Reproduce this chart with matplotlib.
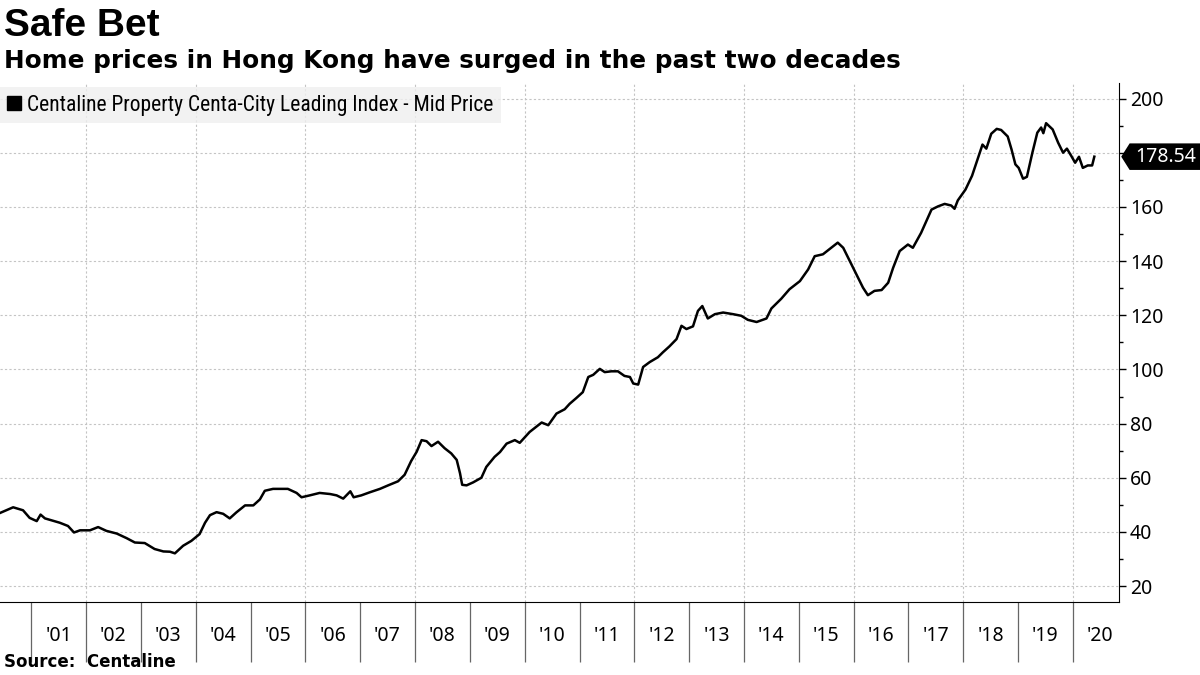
import matplotlib
matplotlib.use('Agg')
import matplotlib.pyplot as plt
import matplotlib.transforms as mtransforms
from matplotlib.patches import Polygon
from matplotlib import font_manager

# Centaline Property Centa-City Leading Index - Mid Price
dates = [2000.43, 2000.67, 2000.85, 2000.97, 2001.10, 2001.17, 2001.25, 2001.52, 2001.67, 2001.78,
         2001.89, 2002.07, 2002.22, 2002.37, 2002.56, 2002.74, 2002.89, 2003.07, 2003.25, 2003.41,
         2003.53, 2003.62, 2003.77, 2003.92, 2004.07, 2004.17, 2004.26, 2004.38, 2004.50, 2004.62,
         2004.74, 2004.90, 2005.05, 2005.17, 2005.26, 2005.41, 2005.68, 2005.84, 2005.93, 2006.08,
         2006.26, 2006.45, 2006.57, 2006.69, 2006.82, 2006.88, 2007.02, 2007.17, 2007.36, 2007.51,
         2007.69, 2007.81, 2007.93, 2008.03, 2008.12, 2008.21, 2008.30, 2008.42, 2008.54, 2008.66,
         2008.76, 2008.82, 2008.86, 2008.94, 2009.06, 2009.21, 2009.30, 2009.45, 2009.55, 2009.67,
         2009.82, 2009.91, 2010.09, 2010.21, 2010.31, 2010.43, 2010.58, 2010.73, 2010.82, 2010.94,
         2011.06, 2011.16, 2011.25, 2011.37, 2011.46, 2011.58, 2011.70, 2011.82, 2011.92, 2011.98,
         2012.07, 2012.16, 2012.28, 2012.43, 2012.52, 2012.64, 2012.77, 2012.86, 2012.95, 2013.07,
         2013.16, 2013.24, 2013.34, 2013.47, 2013.62, 2013.80, 2013.95, 2014.07, 2014.23, 2014.41,
         2014.50, 2014.68, 2014.83, 2015.02, 2015.17, 2015.29, 2015.44, 2015.59, 2015.71, 2015.81,
         2015.93, 2016.05, 2016.17, 2016.26, 2016.38, 2016.51, 2016.63, 2016.72, 2016.84, 2016.99,
         2017.08, 2017.23, 2017.42, 2017.54, 2017.66, 2017.78, 2017.84, 2017.90, 2018.04, 2018.16,
         2018.26, 2018.35, 2018.42, 2018.51, 2018.61, 2018.69, 2018.81, 2018.88, 2018.95, 2019.01,
         2019.09, 2019.16, 2019.26, 2019.35, 2019.42, 2019.46, 2019.51, 2019.63, 2019.73, 2019.82,
         2019.89, 2019.97, 2020.04, 2020.11, 2020.18, 2020.27, 2020.35, 2020.39]
ccl = [47.0, 49.1, 48.0, 45.2, 44.0, 46.4, 45.0, 43.4, 42.2, 39.8,
       40.6, 40.6, 41.8, 40.4, 39.4, 37.7, 36.1, 35.9, 33.7, 32.8,
       32.7, 32.1, 34.9, 36.7, 39.2, 43.4, 46.2, 47.3, 46.7, 45.0,
       47.2, 49.8, 49.8, 52.0, 55.2, 55.9, 55.9, 54.4, 52.8, 53.5,
       54.4, 54.0, 53.5, 52.3, 55.0, 52.8, 53.5, 54.6, 55.9, 57.2,
       58.7, 61.1, 66.2, 69.6, 73.9, 73.5, 71.7, 73.3, 70.9, 69.0,
       66.6, 61.7, 57.4, 57.2, 58.3, 60.0, 64.0, 67.7, 69.5, 72.6,
       73.9, 72.9, 76.9, 78.8, 80.4, 79.4, 83.7, 85.3, 87.3, 89.4,
       91.6, 97.2, 98.0, 100.2, 99.0, 99.3, 99.3, 97.6, 97.2, 94.8,
       94.4, 100.9, 102.7, 104.5, 106.3, 108.5, 111.2, 116.1, 114.9, 115.9,
       121.6, 123.4, 118.8, 120.4, 121.0, 120.4, 119.8, 118.3, 117.5, 118.8,
       122.5, 126.1, 129.6, 132.6, 136.9, 141.8, 142.5, 144.9, 146.8, 144.9,
       140.0, 135.1, 130.2, 127.4, 129.0, 129.3, 132.0, 137.5, 143.7, 146.1,
       144.9, 150.4, 159.0, 160.2, 161.1, 160.5, 159.3, 162.4, 166.4, 171.5,
       177.5, 183.0, 181.5, 187.0, 188.8, 188.4, 186.0, 181.2, 175.7, 174.4,
       170.4, 171.1, 180.0, 187.4, 189.3, 187.2, 190.9, 188.6, 183.7, 180.0,
       181.5, 178.8, 176.3, 178.5, 174.4, 175.3, 175.3, 178.54]

series_name = 'Centaline Property Centa-City Leading Index - Mid Price'
years = list(range(2001, 2021))
year_labels = ["'%02d" % (y % 100) for y in years]
y_ticks = list(range(20, 201, 20))
y_minor = list(range(30, 200, 20))


def narrow_font(size):
	installed = {f.name for f in font_manager.fontManager.ttflist}
	for name in ['Liberation Sans Narrow', 'Noto Sans Condensed', 'Roboto Condensed', 'Open Sans Condensed']:
		if name in installed:
			return font_manager.FontProperties(family=name, size=size)
	for f in font_manager.fontManager.ttflist:
		if f.name == 'Noto Sans' and f.stretch == 'condensed' and f.weight in (400, 'normal', 'regular'):
			return font_manager.FontProperties(fname=f.fname, size=size)
	return font_manager.FontProperties(family='Liberation Sans', size=size)


tick_font = font_manager.FontProperties(family=['Noto Sans', 'DejaVu Sans'], size=14)

fig = plt.figure(figsize=(12, 6.75), dpi=100)
ax = fig.add_axes([0.0, 0.108, 0.9325, 0.7693])

ax.plot(dates, ccl, color='black', lw=1.8, label=series_name, zorder=3)

ax.set_xlim(2000.43, 2020.84)
ax.set_ylim(14.1, 205.8)

# grid
for y in y_ticks:
	ax.axhline(y, color='#c4c4c4', lw=0.8, ls=(0, (2, 2)), zorder=1)
for yr in years[1::2]:
	ax.axvline(yr, color='#c4c4c4', lw=0.8, ls=(0, (2, 2)), zorder=1)

for s in ['top', 'left']:
	ax.spines[s].set_visible(False)
ax.spines['bottom'].set_color('black')
ax.spines['right'].set_color('black')

# x axis: long ticks at year boundaries, labels in between
ax.set_xticks(years)
ax.set_xticklabels([''] * len(years))
ax.set_xticks([y + 0.5 for y in years], minor=True)
ax.set_xticklabels(year_labels, minor=True, fontproperties=tick_font)
ax.tick_params(axis='x', which='major', length=43, width=0.9, color='#666666', direction='out')
ax.tick_params(axis='x', which='minor', length=0, pad=17)

# y axis on the right
ax.yaxis.tick_right()
ax.set_yticks(y_ticks)
ax.set_yticklabels(['' if v == 180 else str(v) for v in y_ticks], fontproperties=tick_font)
ax.set_yticks(y_minor, minor=True)
ax.tick_params(axis='y', which='major', length=5, width=1, pad=3)
ax.tick_params(axis='y', which='minor', length=3, width=1)

leg = ax.legend(loc='upper left', bbox_to_anchor=(0.0, 0.992), prop=narrow_font(15.5),
                handlelength=0.6, handleheight=0.6, handletextpad=0.3, borderaxespad=0,
                borderpad=0.35, frameon=True, fancybox=False)
leg.get_frame().set_facecolor('#efefef')
leg.get_frame().set_edgecolor('none')
for h in leg.legend_handles:
	h.set_linewidth(0)
	h.set_marker('s')
	h.set_markersize(10)
	h.set_markerfacecolor('black')
	h.set_markeredgecolor('black')

# last value tag
last = ccl[-1]
tr = mtransforms.blended_transform_factory(ax.transAxes, ax.transData)
tag = Polygon([(1.002, last), (1.0095, last + 4.9), (1.0724, last + 4.9),
               (1.0724, last - 4.9), (1.0095, last - 4.9)],
              closed=True, transform=tr, clip_on=False, facecolor='black', edgecolor='none')
ax.add_patch(tag)
ax.text(1.0415, last, '%.2f' % last, transform=tr, color='white', ha='center', va='center',
        fontproperties=font_manager.FontProperties(family=['Noto Sans', 'DejaVu Sans'], size=14))

fig.text(0.003, 0.988, 'Safe Bet', fontsize=28, fontweight='bold', family='Liberation Sans', va='top')
fig.text(0.003, 0.899, 'Home prices in Hong Kong have surged in the past two decades',
         fontsize=17.8, fontweight='bold', family='DejaVu Sans', va='baseline')
fig.text(0.003, 0.006, 'Source:  Centaline', fontsize=12, fontweight='bold', family='DejaVu Sans', va='bottom')

fig.savefig('out.png', dpi=100)
